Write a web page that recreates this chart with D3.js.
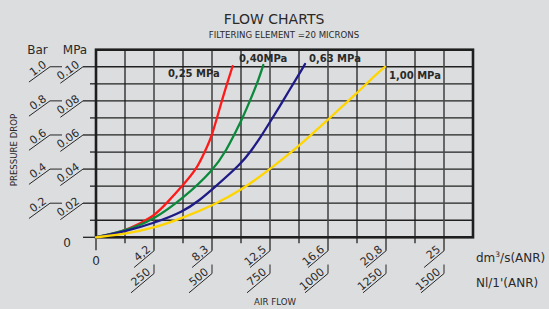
<!DOCTYPE html>
<html><head><meta charset="utf-8">
<script src="https://cdn.jsdelivr.net/npm/d3@7"></script>
<style>
html,body{margin:0;padding:0;background:#dcdddf;}
svg{display:block;}
text{font-family:"DejaVu Sans",sans-serif;fill:#2a2a2a;}
</style></head>
<body>
<svg id="c" width="549" height="309"></svg>
<script>
// ---- data ----
const seriesLabels = ["0,25 MPa", "0,40MPa", "0,63 MPa", "1,00 MPa"];
const flow025 = [0, 125, 190, 247, 305, 376, 434, 470, 499, 535, 563, 589];
const drop025 = [0, 0.0037, 0.0083, 0.0121, 0.0200, 0.0307, 0.0400, 0.0505, 0.0590, 0.0766, 0.0893, 0.1004];
const flow040 = [0, 125, 247, 376, 506, 563, 606, 628, 671, 700, 721];
const drop040 = [0, 0.0037, 0.0101, 0.0229, 0.0394, 0.0512, 0.0629, 0.0688, 0.0824, 0.0922, 0.1010];
const flow063 = [0, 125, 247, 376, 448, 506, 628, 671, 707, 750, 793, 836, 871, 901];
const drop063 = [0, 0.0033, 0.0082, 0.0150, 0.0219, 0.0287, 0.0434, 0.0512, 0.0582, 0.0676, 0.0770, 0.0869, 0.0946, 0.1016];
const flow100 = [0, 125, 247, 376, 506, 628, 750, 872, 1001, 1124, 1181, 1246];
const drop100 = [0, 0.0019, 0.0053, 0.0115, 0.0189, 0.0277, 0.0400, 0.0531, 0.0692, 0.0844, 0.0922, 0.1000];
const flowTicksNl = [250, 500, 750, 1000, 1250, 1500];
const flowTicksDm = ["4,2", "8,3", "12,5", "16,6", "20,8", "25"];
const dropTicksMPa = [0.02, 0.04, 0.06, 0.08, 0.10];
const dropLabelsMPa = ["0.02", "0.04", "0.06", "0.08", "0.10"];
const dropLabelsBar = ["0.2", "0.4", "0.6", "0.8", "1.0"];
const seriesColors = ["#ff1a1a", "#0b8a3c", "#1e1b86", "#ffd500"];

// ---- drawing ----
const svg = d3.select("#c");
const x = d3.scaleLinear().domain([0, 1625]).range([96, 473]);
const y = d3.scaleLinear().domain([0, 0.11]).range([237.3, 49.7]);
const X0 = x(0), X1 = x(1625), Y0 = y(0), Y1 = y(0.11);

// titles
svg.append("text").attr("x", 274).attr("y", 23.5).attr("text-anchor", "middle")
  .attr("font-size", 14).text("FLOW CHARTS");
svg.append("text").attr("x", 284).attr("y", 37.8).attr("text-anchor", "middle")
  .attr("font-size", 8.6).text("FILTERING ELEMENT =20 MICRONS");

const g = svg.append("g");
const gridCols = d3.range(0, 1626, 125);
const gridRows = d3.range(0, 12).map(i => +(i * 0.01).toFixed(2));

// horizontal grid + y ticks
gridRows.forEach((v, i) => {
  if (i === 0 || i === 11) return;
  g.append("line").attr("x1", X0).attr("x2", X1).attr("y1", y(v)).attr("y2", y(v))
    .attr("stroke", "#202020").attr("stroke-width", 1.3);
});
gridRows.forEach((v, i) => {
  if (i === 11) return;
  const left = (i % 2 === 0) ? 83 : 90;
  g.append("line").attr("x1", left).attr("x2", X0).attr("y1", y(v)).attr("y2", y(v))
    .attr("stroke", "#202020").attr("stroke-width", 1.3);
});
// vertical grid + x ticks
gridCols.forEach((v, i) => {
  if (i === 0 || i === 13) return;
  const labelled = i % 2 === 0;
  g.append("line").attr("x1", x(v)).attr("x2", x(v)).attr("y1", Y1).attr("y2", labelled ? Y0 + 13.5 : Y0 + 6)
    .attr("stroke", labelled ? "#4a4a4a" : "#1a1a1a").attr("stroke-width", labelled ? 1.6 : 1.25);
});
g.append("line").attr("x1", X0).attr("x2", X0).attr("y1", Y0).attr("y2", Y0 + 13)
  .attr("stroke", "#262626").attr("stroke-width", 1.3);

// border
g.append("rect").attr("x", X0).attr("y", Y1).attr("width", X1 - X0).attr("height", Y0 - Y1)
  .attr("fill", "none").attr("stroke", "#1e1e1e").attr("stroke-width", 2.6);

// x-axis labels
const ax = 40 * Math.PI / 180, cx = Math.cos(ax), sx = Math.sin(ax);
const tickFont = 11;
flowTicksNl.forEach((v, i) => {
  const X = x(v);
  const ya = Y0 + 13.5;
  g.append("line").attr("x1", X).attr("y1", ya).attr("x2", X - 26 * cx).attr("y2", ya + 26 * sx)
    .attr("stroke", "#262626").attr("stroke-width", 1);
  g.append("text").attr("text-anchor", "end").attr("font-size", tickFont)
    .attr("transform", `translate(${X - 2 * cx - 2.2 * sx},${ya + 2 * sx - 2.2 * cx}) rotate(-40)`)
    .text(flowTicksDm[i]);
  const yb0 = 264.5, yb = 273.5;
  g.append("line").attr("x1", X).attr("y1", yb0).attr("x2", X).attr("y2", yb)
    .attr("stroke", "#262626").attr("stroke-width", 1);
  g.append("line").attr("x1", X).attr("y1", yb).attr("x2", X - 30 * cx).attr("y2", yb + 30 * sx)
    .attr("stroke", "#262626").attr("stroke-width", 1);
  g.append("text").attr("text-anchor", "end").attr("font-size", tickFont)
    .attr("transform", `translate(${X - 2 * cx - 2.2 * sx},${yb + 2 * sx - 2.2 * cx}) rotate(-40)`)
    .text(v);
});
svg.append("text").attr("x", X0).attr("y", 265).attr("text-anchor", "middle").attr("font-size", 12).text("0");

// y-axis labels
const ay = 36 * Math.PI / 180, cy = Math.cos(ay), sy = Math.sin(ay);
dropTicksMPa.forEach((v, i) => {
  const Y = y(v);
  g.append("line").attr("x1", 83).attr("y1", Y).attr("x2", 83 - 28 * cy).attr("y2", Y + 28 * sy)
    .attr("stroke", "#262626").attr("stroke-width", 1);
  g.append("text").attr("text-anchor", "end").attr("font-size", tickFont)
    .attr("transform", `translate(${83 - 2 * cy - 2.2 * sy},${Y + 2 * sy - 2.2 * cy}) rotate(-36)`)
    .text(dropLabelsMPa[i]);
  g.append("line").attr("x1", 62).attr("y1", Y).attr("x2", 50).attr("y2", Y)
    .attr("stroke", "#262626").attr("stroke-width", 1);
  g.append("line").attr("x1", 50).attr("y1", Y).attr("x2", 50 - 26 * cy).attr("y2", Y + 26 * sy)
    .attr("stroke", "#262626").attr("stroke-width", 1);
  g.append("text").attr("text-anchor", "end").attr("font-size", tickFont)
    .attr("transform", `translate(${50 - 2 * cy - 2.2 * sy},${Y + 2 * sy - 2.2 * cy}) rotate(-36)`)
    .text(dropLabelsBar[i]);
});
svg.append("text").attr("x", 67).attr("y", 246.5).attr("text-anchor", "middle").attr("font-size", 12).text("0");

svg.append("text").attr("x", 37.5).attr("y", 53.5).attr("text-anchor", "middle").attr("font-size", 12).text("Bar");
svg.append("text").attr("x", 75).attr("y", 53.5).attr("text-anchor", "middle").attr("font-size", 12).text("MPa");

// axis titles
svg.append("text").attr("transform", "translate(16.5,150) rotate(-90)").attr("text-anchor", "middle")
  .attr("font-size", 8.6).text("PRESSURE DROP");
svg.append("text").attr("x", 275).attr("y", 305).attr("text-anchor", "middle")
  .attr("font-size", 8.6).text("AIR FLOW");
const u1 = svg.append("text").attr("x", 476).attr("y", 262).attr("font-size", 12);
u1.append("tspan").text("dm");
u1.append("tspan").attr("font-size", 7.5).attr("dy", -5).text("3");
u1.append("tspan").attr("dy", 5).text("/s(ANR)");
svg.append("text").attr("x", 476).attr("y", 286.5).attr("font-size", 12).text("Nl/1'(ANR)");

// curves
const flows = [flow025, flow040, flow063, flow100];
const drops = [drop025, drop040, drop063, drop100];
const line = d3.line().x(d => x(d[0])).y(d => y(d[1])).curve(d3.curveBasis);
flows.forEach((f, k) => {
  const pts = f.map((v, j) => [v, drops[k][j]]);
  svg.append("path").attr("d", line(pts)).attr("fill", "none")
    .attr("stroke", seriesColors[k]).attr("stroke-width", 2.3).attr("stroke-linecap", "round");
});

// curve labels
const labelAt = [[310, 0.094], [616, 0.1027], [918, 0.1027], [1263, 0.0928]];
seriesLabels.forEach((t, k) => {
  svg.append("text").attr("x", x(labelAt[k][0])).attr("y", y(labelAt[k][1]))
    .attr("font-size", 10).attr("font-weight", "bold").attr("fill", "#222").text(t);
});
</script>
</body></html>
